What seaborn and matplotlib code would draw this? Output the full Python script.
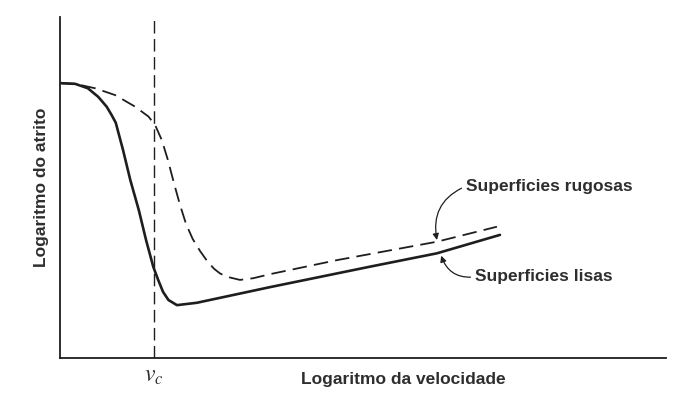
import pandas as pd
import matplotlib.pyplot as plt
import seaborn as sns

# eixo x: log da velocidade, eixo y: log do atrito (unidades arbitrarias 0-100)
x_lisas = [0, 2.5, 4.6, 6.3, 7.7, 8.5, 9.2, 10.4, 11.6, 13.0, 14.2, 15.4, 16.2, 17.0, 17.9, 19.3,
           22.6, 34.7, 51.2, 62.2, 72.6]
y_lisas = [80.6, 80.4, 79.1, 76.6, 73.7, 71.3, 69.0, 61.0, 52.2, 43.4, 34.6, 26.7, 22.9, 19.4, 17.0, 15.5,
           16.2, 20.8, 26.8, 30.7, 36.1]

x_rugosas = [0, 2.5, 5.8, 9.1, 12.4, 14.6, 15.7, 16.8, 17.8, 18.8, 19.8, 20.8, 21.9, 23.1, 24.3,
             25.4, 26.4, 27.6, 29.7, 31.9, 34.7, 45.7, 62.2, 72.1]
y_rugosas = [80.6, 80.4, 79.1, 77.1, 73.7, 70.8, 68.3, 63.9, 58.1, 51.3, 44.9, 39.3, 34.9, 31.4, 28.4,
             26.2, 24.8, 23.8, 22.9, 23.4, 24.6, 28.7, 34.1, 38.5]

v_c = 15.5

df_lisas = pd.DataFrame({'x': x_lisas, 'y': y_lisas})
df_rugosas = pd.DataFrame({'x': x_rugosas, 'y': y_rugosas})

sns.set_style('white')
plt.rcParams['font.family'] = ['Liberation Sans', 'DejaVu Sans']
plt.rcParams['mathtext.fontset'] = 'stix'

fig = plt.figure(figsize=(6.8, 4.01), dpi=100)
ax = fig.add_axes([60 / 680, 43 / 401, 606 / 680, 341 / 401])

ink = '#1e1e1e'
txt = '#2e2e2e'
sns.lineplot(data=df_lisas, x='x', y='y', ax=ax, color=ink, linewidth=1.9, sort=False,
             solid_joinstyle='round', solid_capstyle='round')
sns.lineplot(data=df_rugosas, x='x', y='y', ax=ax, color=ink, linewidth=1.3, sort=False,
             linestyle=(0, (8, 4)), dash_joinstyle='round')
ax.axvline(v_c, color=ink, linewidth=1.0, linestyle=(0, (9, 4)))

ax.set_xlim(0, 100)
ax.set_ylim(0, 100)
sns.despine(ax=ax)
for s in ['left', 'bottom']:
    ax.spines[s].set_color(ink)
    ax.spines[s].set_linewidth(1.3)

ax.set_xticks([v_c])
ax.set_xticklabels([r'$v_c$'], fontsize=17, color=txt)
ax.set_yticks([])
ax.tick_params(axis='x', length=0, pad=5)

ax.set_xlabel('Logaritmo da velocidade', fontsize=12.5, fontweight='bold', color=txt)
ax.xaxis.set_label_coords((403 - 60) / 606, -0.04)
ax.set_ylabel('Logaritmo do atrito', fontsize=12.5, fontweight='bold', color=txt, labelpad=8)

ax.annotate('Superficies rugosas', xy=(62.2, 34.6), xytext=(67.0, 50.4),
            fontsize=12.5, fontweight='bold', color=txt, va='center', ha='left',
            arrowprops=dict(arrowstyle='-|>', color=ink, lw=0.9, mutation_scale=9,
                            connectionstyle='arc3,rad=0.4', relpos=(0, 0.5),
                            shrinkA=1, shrinkB=0))
ax.annotate('Superficies lisas', xy=(62.9, 30.0), xytext=(68.5, 23.8),
            fontsize=12.5, fontweight='bold', color=txt, va='center', ha='left',
            arrowprops=dict(arrowstyle='-|>', color=ink, lw=0.9, mutation_scale=9,
                            connectionstyle='arc3,rad=-0.4', relpos=(0, 0.5),
                            shrinkA=1, shrinkB=0))

plt.savefig('out.png', dpi=100)
